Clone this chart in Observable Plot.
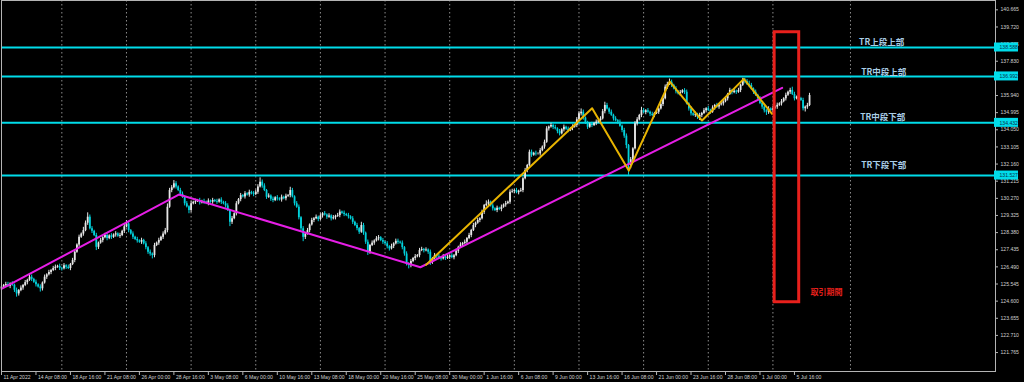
<!DOCTYPE html>
<html><head><meta charset="utf-8">
<script src="https://cdn.jsdelivr.net/npm/d3@7"></script>
<script src="https://cdn.jsdelivr.net/npm/@observablehq/plot@0.6"></script>
<style>html,body{margin:0;padding:0;background:#000;overflow:hidden}svg{display:block}</style>
</head><body><div id="chart"></div>
<script>
// USDJPY H4 closes, bar index 0..375
const firstOpen = 125.30;
const closes = [
125.38,125.46,125.52,125.41,125.55,125.48,125.20,125.00,125.18,125.32,
125.46,125.62,125.75,125.92,125.80,125.64,125.50,125.38,125.28,125.60,
125.92,126.05,126.18,126.29,126.40,126.47,126.52,126.41,126.38,126.55,
126.47,126.40,126.62,126.84,127.30,127.70,128.12,128.30,128.49,128.90,
129.23,128.59,128.45,128.22,127.57,127.80,127.94,128.10,128.22,128.05,
128.20,128.12,128.25,128.31,128.18,128.22,128.45,128.70,128.86,128.49,
128.30,128.12,128.00,127.92,127.85,127.95,127.76,127.55,127.30,127.20,
127.11,127.67,127.80,127.95,128.12,128.30,128.49,129.78,130.70,130.85,
131.07,130.90,130.70,130.50,130.33,129.97,129.80,129.60,129.97,130.05,
130.10,130.15,130.02,130.10,130.06,129.98,130.12,130.06,130.15,130.10,
130.06,130.18,130.05,129.97,129.85,129.60,128.95,129.15,129.42,129.97,
130.20,130.42,130.35,130.52,130.45,130.60,130.52,130.48,130.61,130.90,
131.16,130.95,130.70,130.33,130.40,130.22,130.15,130.30,130.24,130.18,
130.33,130.25,130.38,130.42,130.70,130.35,129.97,129.78,129.20,128.59,
128.12,128.30,128.49,128.80,129.05,129.15,129.23,129.10,129.30,129.42,
129.35,129.23,129.30,129.14,129.20,129.28,129.32,129.51,129.45,129.38,
129.32,129.25,129.14,128.95,128.77,128.60,128.40,128.77,128.35,127.85,
127.30,127.67,127.80,127.92,128.04,128.10,127.94,127.85,127.76,127.60,
127.48,127.62,127.76,127.90,127.85,127.80,127.55,127.20,126.66,126.56,
126.78,126.95,127.05,127.11,127.39,127.45,127.38,127.42,127.30,126.75,
126.95,127.11,127.05,126.98,126.93,127.05,126.96,127.02,127.10,127.00,
127.11,127.35,127.57,127.70,127.78,127.85,128.05,128.22,128.50,128.77,
128.90,129.05,129.14,129.50,129.87,129.95,130.06,129.85,129.69,129.60,
129.72,129.65,129.78,129.90,129.98,130.06,130.61,130.65,130.70,130.58,
130.66,130.70,131.35,131.80,132.08,132.81,132.65,132.75,132.72,132.72,
132.90,133.10,133.36,134.10,134.20,134.29,134.18,134.10,133.95,133.83,
134.05,134.19,134.08,134.01,134.12,134.20,134.29,134.60,134.93,135.02,
134.70,134.40,134.19,134.35,134.29,134.40,134.47,134.55,134.65,135.05,
135.39,135.20,135.02,134.85,134.65,134.55,134.47,134.25,134.01,133.70,
133.18,132.08,132.40,133.00,134.38,134.60,134.84,135.11,135.00,135.10,
135.02,134.90,134.84,134.95,135.02,135.20,135.45,135.76,136.40,136.55,
136.67,136.50,136.31,136.15,136.03,136.10,136.20,136.12,135.48,135.20,
134.93,134.85,134.90,134.74,134.84,134.95,135.10,135.21,135.12,135.02,
135.25,135.39,135.30,135.42,135.48,135.60,135.76,136.00,136.22,136.10,
136.18,136.12,136.22,136.50,136.77,136.70,136.55,136.49,136.30,136.12,
135.95,135.76,135.50,135.30,135.10,135.02,135.20,135.11,135.22,135.30,
135.40,135.48,135.60,135.76,135.95,136.12,136.22,136.00,135.76,135.85,
135.78,135.67,135.21,135.30,135.39,135.94];
// wick lengths per bar, in units of wickUnit (upper / lower)
const wickUnit = 0.06;
const upperWicks = ("2122121212 1213212121 2121221212 1212212132 4221212122 1212121232 1212121212 1212122322 3212212121 2121212121 " +
 "2121221212 1212121222 4221212121 2121321221 2121212121 2121212212 1212121321 2121221212 1212212121 2121221212 " +
 "1212121212 1212121212 1212132121 2121212212 1212122121 2122121212 1212121223 2121212122 3212121212 2121221321 " +
 "2121212122 3212121221 2121212121 2121212121 2121222321 2121212121 2121212321 212122").replace(/\s/g, "").split("").map(Number);
const lowerWicks = ("2121212321 2121212132 1212121221 2121212121 2121321212 1212121212 1212121222 3212121212 1212121321 2121212121 " +
 "2121214212 1212121212 1212122121 2121212122 4212121212 1212121212 1212122122 3212121212 2121212223 2121212123 " +
 "2121212121 2121212121 2121212121 2121212121 2121212121 2121212122 1212121212 2121212121 2121212122 3932121212 " +
 "1212121212 1212121212 2122321212 1212121212 1212121212 1212232121 2121212121 212321").replace(/\s/g, "").split("").map(Number);

// time-axis labels every 16 bars
const timeLabels = ["11 Apr 2022","14 Apr 08:00","18 Apr 16:00","21 Apr 08:00","26 Apr 00:00","28 Apr 16:00",
 "3 May 08:00","6 May 00:00","10 May 16:00","13 May 08:00","18 May 00:00","20 May 16:00","25 May 08:00",
 "30 May 00:00","1 Jun 16:00","6 Jun 08:00","9 Jun 00:00","13 Jun 16:00","16 Jun 08:00","21 Jun 00:00",
 "23 Jun 16:00","28 Jun 08:00","1 Jul 00:00","5 Jul 16:00"];
const timeLabelBars = [0,16,32,48,64,80,96,112,128,144,160,176,192,208,224,240,256,272,288,304,320,336,352,368];
const gridBars = [28,58,88,118,148,178,208,238,268,298,328,358,394];

// price axis labels (136.885 is hidden behind a level box in the original)
const priceTicks = [140.665,139.720,138.775,137.830,135.940,134.995,134.050,133.105,132.160,131.215,
 130.270,129.325,128.380,127.435,126.490,125.545,124.600,123.655,122.710,121.765];

// horizontal range lines
const levels = [138.588, 136.992, 134.432, 131.527];
const levelNames = ["TR上段上部","TR中段上部","TR中段下部","TR下段下部"];
const levelLabelBar = [398, 399, 398.5, 399];
const levelLabelPrice = [138.86, 137.21, 134.73, 132.08];

// trend lines (bar index, price)
const trendBars = [0, 82.3, 194.4, 362.3];
const trendPrices = [125.28, 130.48, 126.47, 136.36];
const zigBars = [197, 274.1, 291.1, 310.1, 325.1, 344.5, 357.6];
const zigPrices = [126.6, 135.24, 131.80, 136.71, 134.56, 136.86, 134.93];

// trading-period box
const boxBars = [358.8, 370.2];
const boxPrices = [124.54, 139.43];
const boxLabel = "取引期間";
const boxLabelBar = 375.4, boxLabelPrice = 125.07;

const xMax = 461.3, yMin = 120.72, yMax = 141.18;

const bars = closes.map((c, i) => {
  const o = i ? closes[i - 1] : firstOpen;
  return {i, o, c, h: Math.max(o, c) + (upperWicks[i] ?? 1) * wickUnit, l: Math.min(o, c) - (lowerWicks[i] ?? 1) * wickUnit};
});
const bull = bars.filter(d => d.c >= d.o), bear = bars.filter(d => d.c < d.o);
const trend = trendBars.map((i, k) => ({i, p: trendPrices[k]}));
const zig = zigBars.map((i, k) => ({i, p: zigPrices[k]}));
const xt = timeLabelBars.map((i, k) => ({i, t: timeLabels[k]}));
const trL = levels.map((v, k) => ({i: levelLabelBar[k], p: levelLabelPrice[k], t: levelNames[k]}));

const BULL = "#e6e6e6", BEAR = "#00d2dc", CYAN = "#00dcea", AX = "#b4b4b4";
const cjk = "'Noto Sans CJK JP', 'Noto Sans', sans-serif";
const AXF = 5.1;

const chart = Plot.plot({
  width: 1024, height: 382,
  marginLeft: 1, marginRight: 29, marginTop: 0, marginBottom: 11,
  x: {domain: [0, xMax], axis: null},
  y: {domain: [yMin, yMax], axis: null},
  style: {background: "#000", color: "#ccc", fontFamily: "'Liberation Sans', 'DejaVu Sans', sans-serif", fontSize: "6px"},
  marks: [
    Plot.ruleX(gridBars, {x: d => d, stroke: "#8c8c8c", strokeWidth: 1, strokeDasharray: "1.5,2.5"}),
    Plot.ruleY(levels, {y: d => d, stroke: CYAN, strokeWidth: 2}),
    Plot.ruleX(bull, {x: "i", y1: "l", y2: "h", stroke: BULL, strokeWidth: 1}),
    Plot.ruleX(bear, {x: "i", y1: "l", y2: "h", stroke: BEAR, strokeWidth: 1}),
    Plot.ruleX(bull, {x: "i", y1: "o", y2: "c", stroke: BULL, strokeWidth: 1.8}),
    Plot.ruleX(bear, {x: "i", y1: "o", y2: "c", stroke: BEAR, strokeWidth: 1.8}),
    Plot.line(trend, {x: "i", y: "p", stroke: "#e61ee6", strokeWidth: 2}),
    Plot.line(zig, {x: "i", y: "p", stroke: "#e8b400", strokeWidth: 2}),
    Plot.rect([0], {x1: () => boxBars[0], x2: () => boxBars[1], y1: () => boxPrices[0], y2: () => boxPrices[1], fill: "none", stroke: "#e8201c", strokeWidth: 3}),
    Plot.text(trL, {x: "i", y: "p", text: "t", textAnchor: "start", fill: "#a9cde6", fontSize: 8.5, fontWeight: "bold", fontFamily: cjk}),
    Plot.text([boxLabel], {x: () => boxLabelBar, y: () => boxLabelPrice, text: d => d, textAnchor: "start", fill: "#e8201c", fontSize: 8, fontWeight: "bold", fontFamily: cjk}),
    Plot.frame({stroke: AX}),
    // price axis
    Plot.ruleY(priceTicks, {y: d => d, x1: () => xMax, x2: () => xMax, insetRight: -3, stroke: AX}),
    Plot.text(priceTicks, {x: () => xMax, y: d => d, text: d => d.toFixed(3), dx: 5, textAnchor: "start", fill: "#d0d0d0", fontSize: AXF}),
    Plot.rect(levels, {x1: () => xMax, x2: () => xMax, y1: d => d, y2: d => d, insetLeft: -1, insetRight: -23, insetTop: -4.5, insetBottom: -4.5, fill: CYAN}),
    Plot.text(levels, {x: () => xMax, y: d => d, text: d => d.toFixed(3), dx: 4, textAnchor: "start", fill: "#08324a", fontSize: AXF}),
    // time axis
    Plot.ruleX(xt, {x: "i", y1: () => yMin, y2: () => yMin, insetBottom: -4, stroke: AX}),
    Plot.text(xt, {x: "i", y: () => yMin, text: "t", dx: 2, dy: 6, textAnchor: "start", fill: "#d0d0d0", fontSize: AXF})
  ]
});
document.getElementById("chart").appendChild(chart);
</script>
</body></html>
